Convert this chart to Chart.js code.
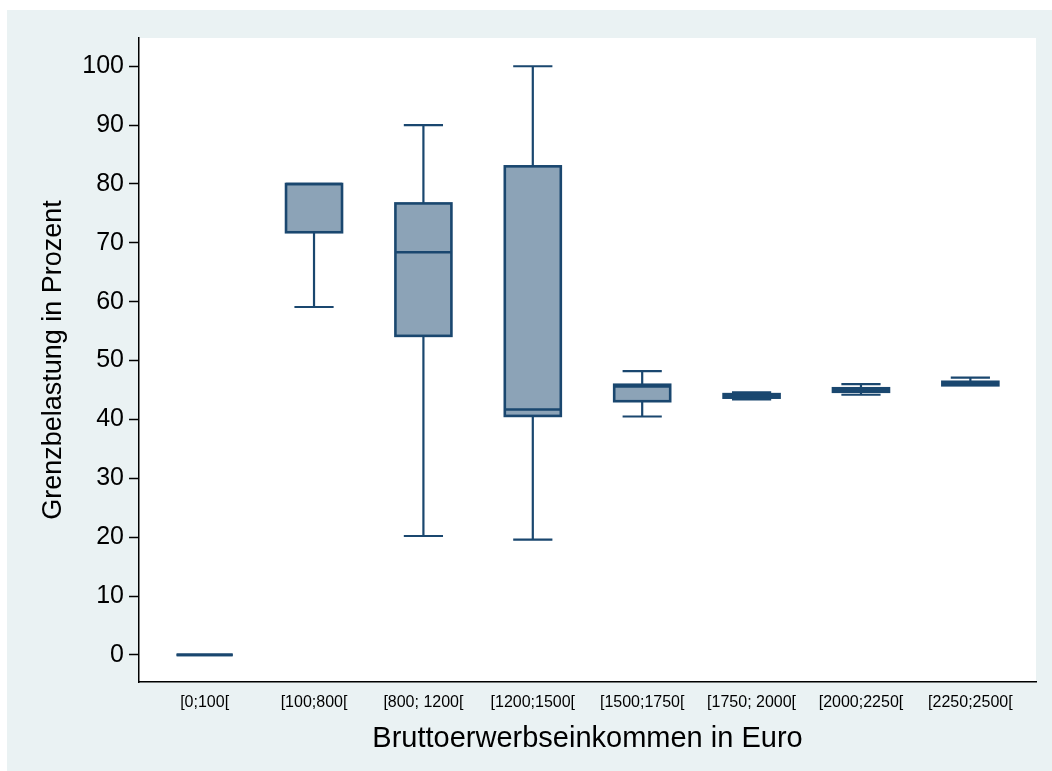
<!DOCTYPE html>
<html>
<head>
<meta charset="utf-8">
<script src="https://cdn.jsdelivr.net/npm/chart.js@4"></script>
<style>
  html, body { margin: 0; padding: 0; background: #fff; }
  #wrap { position: absolute; left: 0; top: 0; width: 1052px; height: 771px; }
</style>
</head>
<body>
<div id="wrap"><canvas id="boxChart"></canvas></div>
<script>
// Einkommensklassen und Kennwerte der Boxplots (Grenzbelastung in %)
const kategorien = ['[0;100[', '[100;800[', '[800; 1200[', '[1200;1500[', '[1500;1750[', '[1750; 2000[', '[2000;2250[', '[2250;2500['];
const whiskerUnten = [0, 59.1, 20.2, 19.6, 40.5, 43.4, 44.2, 45.8];
const quartil1 = [0, 71.8, 54.2, 40.6, 43.1, 43.7, 44.7, 45.8];
const median = [0, 80, 68.4, 41.7, 45.6, 44.0, 45.0, 46.1];
const quartil3 = [0, 80, 76.7, 83.0, 45.9, 44.3, 45.3, 46.4];
const whiskerOben = [0, 80, 90, 100, 48.2, 44.6, 46.0, 47.1];
const yTicks = [0, 10, 20, 30, 40, 50, 60, 70, 80, 90, 100];

const LINIE = '#1a476f';
const FUELLUNG = '#8ca3b7';

// Hintergrund: grauer Rahmen, weisse Plotflaeche
const hintergrund = {
    id: 'hintergrund',
    beforeDraw(chart) {
        const { ctx, chartArea: a } = chart;
        ctx.save();
        ctx.fillStyle = '#ffffff';
        ctx.fillRect(0, 0, chart.width, chart.height);
        ctx.fillStyle = '#eaf2f3';
        ctx.fillRect(7, 10, chart.width - 7, chart.height - 10);
        ctx.fillStyle = '#ffffff';
        ctx.fillRect(a.left, a.top, a.right - a.left, a.bottom - a.top);
        ctx.restore();
    }
};

// Whisker, Median und Rahmen der Boxen
const boxplot = {
    id: 'boxplot',
    afterDatasetsDraw(chart) {
        const { ctx, scales: { y } } = chart;
        const bars = chart.getDatasetMeta(0).data;
        ctx.save();
        ctx.strokeStyle = LINIE;
        ctx.lineCap = 'butt';
        bars.forEach((bar, i) => {
            const halb = bar.width / 2;
            const kappe = bar.width * 0.35;
            const yLo = y.getPixelForValue(whiskerUnten[i]);
            const yHi = y.getPixelForValue(whiskerOben[i]);
            const yQ1 = y.getPixelForValue(quartil1[i]);
            const yQ3 = y.getPixelForValue(quartil3[i]);
            const yMed = y.getPixelForValue(median[i]);

            // Whisker
            ctx.lineWidth = 2.2;
            ctx.beginPath();
            ctx.moveTo(bar.x, yQ1); ctx.lineTo(bar.x, yLo);
            ctx.moveTo(bar.x, yQ3); ctx.lineTo(bar.x, yHi);
            if (whiskerUnten[i] < quartil1[i]) {
                ctx.moveTo(bar.x - kappe, yLo); ctx.lineTo(bar.x + kappe, yLo);
            }
            if (whiskerOben[i] > quartil3[i]) {
                ctx.moveTo(bar.x - kappe, yHi); ctx.lineTo(bar.x + kappe, yHi);
            }
            ctx.stroke();

            // Box und Median
            ctx.lineWidth = 2.6;
            ctx.strokeRect(bar.x - halb, yQ3, bar.width, yQ1 - yQ3);
            ctx.beginPath();
            ctx.moveTo(bar.x - halb, yMed); ctx.lineTo(bar.x + halb, yMed);
            ctx.stroke();
        });
        ctx.restore();
    }
};

const schrift = "'Liberation Sans', Arial, Helvetica, sans-serif";

new Chart(document.getElementById('boxChart'), {
    type: 'bar',
    data: {
        datasets: [{
            data: kategorien.map((k, i) => ({ x: i, y: [quartil1[i], quartil3[i]] })),
            backgroundColor: FUELLUNG,
            borderWidth: 0,
            barThickness: 56
        }]
    },
    options: {
        responsive: true,
        maintainAspectRatio: false,
        animation: false,
        layout: { padding: { top: 38, right: 16, left: 0, bottom: 0 } },
        plugins: {
            legend: { display: false },
            tooltip: { enabled: false }
        },
        scales: {
            x: {
                type: 'linear',
                offset: false,
                min: -0.6,
                max: 7.6,
                afterBuildTicks: s => { s.ticks = kategorien.map((k, i) => ({ value: i })); },
                afterFit: s => { s.height = 89; },
                grid: { display: false, drawTicks: false },
                border: { display: true, color: '#000', width: 1.5 },
                ticks: {
                    callback: v => kategorien[v],
                    color: '#000',
                    padding: 11,
                    maxRotation: 0,
                    autoSkip: false,
                    font: { family: schrift, size: 16 }
                },
                title: {
                    display: true,
                    text: 'Bruttoerwerbseinkommen in Euro',
                    color: '#000',
                    padding: { bottom: 15 },
                    font: { family: schrift, size: 29 }
                }
            },
            y: {
                min: -4.6,
                max: 104.8,
                afterBuildTicks: s => { s.ticks = yTicks.map(v => ({ value: v })); },
                afterFit: s => { s.width = 139; },
                grid: {
                    drawOnChartArea: false,
                    drawTicks: true,
                    tickLength: 10,
                    tickColor: '#000',
                    tickWidth: 1.5
                },
                border: { display: true, color: '#000', width: 1.5 },
                ticks: {
                    color: '#000',
                    padding: 5,
                    font: { family: schrift, size: 25 }
                },
                title: {
                    display: true,
                    text: 'Grenzbelastung in Prozent',
                    color: '#000',
                    padding: { top: 37 },
                    font: { family: schrift, size: 27 }
                }
            }
        }
    },
    plugins: [hintergrund, boxplot]
});
</script>
</body>
</html>
